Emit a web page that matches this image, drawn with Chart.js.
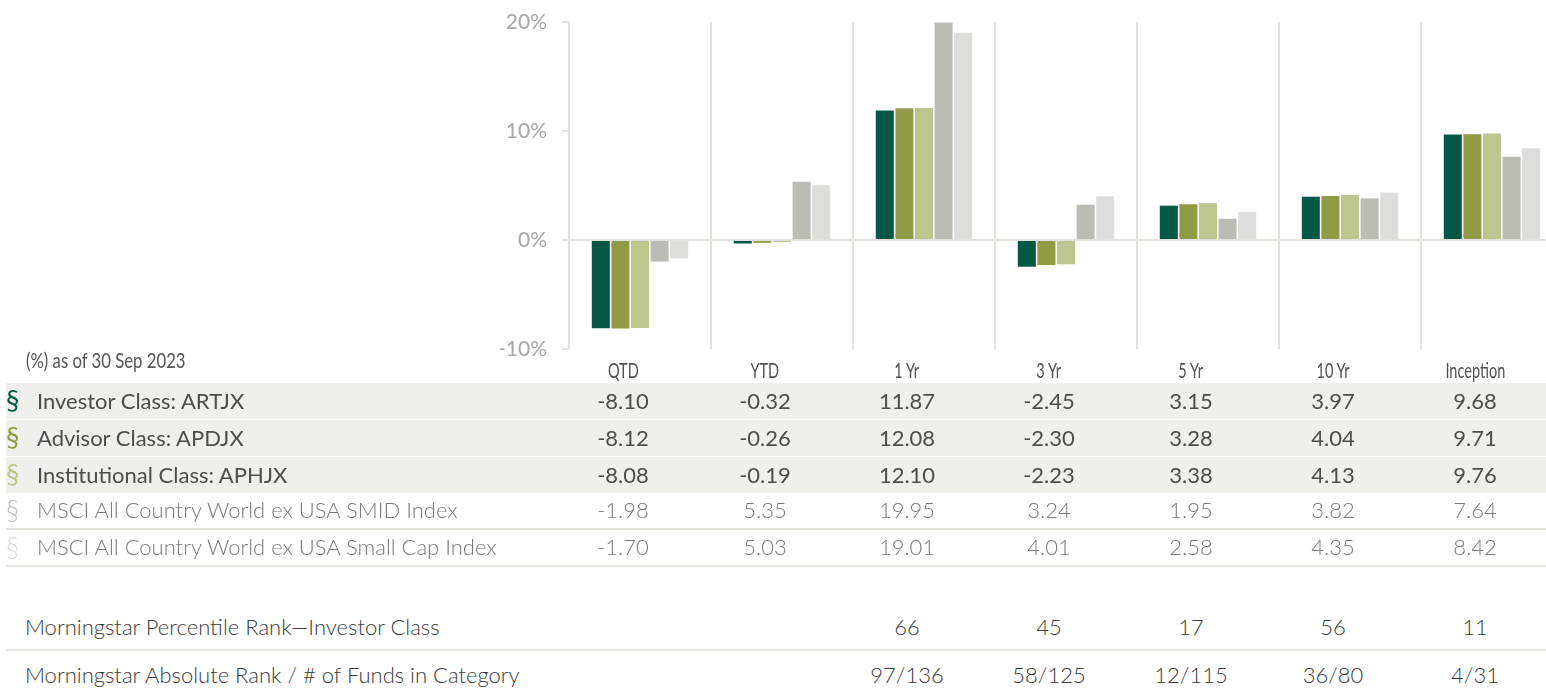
<!DOCTYPE html>
<html>
<head>
<meta charset="utf-8">
<script src="https://cdn.jsdelivr.net/npm/chart.js@4.4.0/dist/chart.umd.min.js"></script>
<style>
  html, body { margin: 0; padding: 0; background: #ffffff; }
  body { width: 1546px; height: 694px; overflow: hidden; position: relative; font-family: Lato, "Open Sans", sans-serif; }
  #chartBox { position: absolute; left: 0; top: 0; width: 1563px; height: 390px; }
  #asof { position: absolute; left: 26px; top: 346px; font-size: 22px; color: #555555; white-space: nowrap; transform: scaleX(0.76); transform-origin: 0 50%; }
  .tbl { position: absolute; left: 6px; width: 1540px; }
  .row { display: flex; align-items: center; box-sizing: border-box; white-space: nowrap; }
  .lab { width: 546px; display: flex; align-items: center; }
  .cell { width: 142px; text-align: center; }
  .hdr { height: 27px; color: #505050; font-size: 22px; }
  .hdr .cell span { display: inline-block; transform: scaleX(0.66); transform-origin: 50% 50%; }
  .mark { width: 31px; padding-left: 0px; font-size: 27px; line-height: 20px; }
  .fund { background: #efefeb; height: 37px; padding-bottom: 2px; border-bottom: 1px solid #ffffff; color: #4d4d4d; font-size: 22px; font-weight: 400; }
  .fund.last { height: 36px; border-bottom: none; }
  .idx { height: 37px; padding-bottom: 2px; border-bottom: 2px solid #e4e4de; color: #7a7a7a; font-size: 22px; font-weight: 300; }
  .ms { color: #3a3a3a; font-size: 22px; font-weight: 300; }
  .ms .lab { padding-left: 19px; box-sizing: border-box; }
  .ms1 { height: 48px; border-bottom: 2px solid #e4e4de; }
  .ms2 { height: 47px; }
</style>
</head>
<body>
<div id="chartBox"><canvas id="c" width="1563" height="390"></canvas></div>
<div id="asof"></div>
<div class="tbl" id="head" style="top:356px"></div>
<div class="tbl" id="perf" style="top:383px"></div>
<div class="tbl" id="rank" style="top:603px"></div>
<script>
// ---- data ----
const categories = ['QTD', 'YTD', '1 Yr', '3 Yr', '5 Yr', '10 Yr', 'Inception'];
const seriesNames = ['Investor Class: ARTJX', 'Advisor Class: APDJX', 'Institutional Class: APHJX', 'MSCI All Country World ex USA SMID Index', 'MSCI All Country World ex USA Small Cap Index'];
const investor = [-8.10, -0.32, 11.87, -2.45, 3.15, 3.97, 9.68];
const advisor = [-8.12, -0.26, 12.08, -2.30, 3.28, 4.04, 9.71];
const institutional = [-8.08, -0.19, 12.10, -2.23, 3.38, 4.13, 9.76];
const smidIndex = [-1.98, 5.35, 19.95, 3.24, 1.95, 3.82, 7.64];
const smallCapIndex = [-1.70, 5.03, 19.01, 4.01, 2.58, 4.35, 8.42];
const percentileRank = [null, null, '66', '45', '17', '56', '11'];
const absoluteRank = [null, null, '97/136', '58/125', '12/115', '36/80', '4/31'];
const yTicks = [-10, 0, 10, 20];
const asOf = '(%) as of 30 Sep 2023';

const colors = ['#055746', '#919b45', '#bec68f', '#bcbcb7', '#dddddb'];
const seriesValues = [investor, advisor, institutional, smidIndex, smallCapIndex];
const gridColor = '#e2e2dc';

// ---- chart ----
const datasets = seriesValues.map((vals, i) => ({
  label: seriesNames[i],
  data: vals,
  backgroundColor: colors[i],
  borderWidth: 0,
  categoryPercentage: 0.69,
  barPercentage: 0.92
}));

new Chart(document.getElementById('c'), {
  type: 'bar',
  data: { labels: categories, datasets },
  options: {
    responsive: false,
    animation: false,
    events: [],
    layout: { padding: { left: 500, top: 22, right: 0, bottom: 0 } },
    plugins: { legend: { display: false }, tooltip: { enabled: false } },
    scales: {
      x: {
        offset: true,
        grid: { display: true, offset: true, color: gridColor, lineWidth: 2, drawTicks: false },
        border: { display: false },
        ticks: { display: false },
        afterFit: (s) => { s.height = 41; }
      },
      y: {
        min: yTicks[0],
        max: yTicks[yTicks.length - 1],
        afterBuildTicks: (s) => { s.ticks = yTicks.map(v => ({ value: v })); },
        grid: {
          color: (ctx) => (ctx.tick && ctx.tick.value === 0) ? gridColor : 'rgba(0,0,0,0)',
          tickColor: gridColor,
          lineWidth: 2,
          tickLength: 7,
          drawTicks: true
        },
        border: { display: false },
        ticks: {
          color: '#a6a6a6',
          padding: 15,
          font: { family: 'Lato, sans-serif', size: 21 },
          callback: (v) => v + '%'
        },
        afterFit: (s) => { s.width = 69; s.paddingTop = 12; s.paddingBottom = 12; }
      }
    }
  }
});

// ---- table ----
document.getElementById('asof').textContent = asOf;

const head = document.getElementById('head');
const hrow = document.createElement('div');
hrow.className = 'row hdr';
const hlab = document.createElement('div');
hlab.className = 'lab';
hrow.appendChild(hlab);
categories.forEach(cat => {
  const c = document.createElement('div');
  c.className = 'cell';
  const s = document.createElement('span');
  s.textContent = cat;
  c.appendChild(s);
  hrow.appendChild(c);
});
head.appendChild(hrow);

const perf = document.getElementById('perf');
seriesValues.forEach((vals, i) => {
  const row = document.createElement('div');
  row.className = 'row ' + (i < 3 ? 'fund' + (i === 2 ? ' last' : '') : 'idx');
  const lab = document.createElement('div');
  lab.className = 'lab';
  const mark = document.createElement('span');
  mark.className = 'mark';
  mark.style.color = colors[i];
  mark.textContent = '§';
  const name = document.createElement('span');
  name.textContent = seriesNames[i];
  lab.appendChild(mark); lab.appendChild(name);
  row.appendChild(lab);
  vals.forEach(v => {
    const c = document.createElement('div');
    c.className = 'cell';
    c.textContent = v.toFixed(2);
    row.appendChild(c);
  });
  perf.appendChild(row);
});

const rank = document.getElementById('rank');
[['Morningstar Percentile Rank\u2014Investor Class', percentileRank, 'ms1'],
 ['Morningstar Absolute Rank / # of Funds in Category', absoluteRank, 'ms2']].forEach(([label, vals, cls]) => {
  const row = document.createElement('div');
  row.className = 'row ms ' + cls;
  const lab = document.createElement('div');
  lab.className = 'lab';
  lab.textContent = label;
  row.appendChild(lab);
  vals.forEach(v => {
    const c = document.createElement('div');
    c.className = 'cell';
    c.textContent = v === null ? '' : v;
    row.appendChild(c);
  });
  rank.appendChild(row);
});
</script>
</body>
</html>
